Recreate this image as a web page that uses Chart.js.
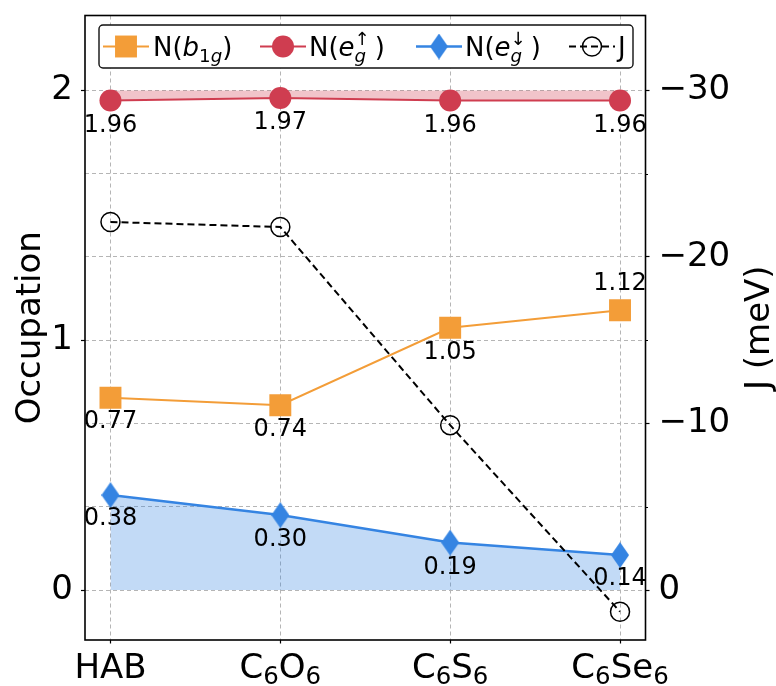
<!DOCTYPE html>
<html>
<head>
<meta charset="utf-8">
<script src="https://cdn.jsdelivr.net/npm/chart.js@4"></script>
<style>
  html, body { margin: 0; background: #fff; }
  #wrap { width: 776px; height: 686px; }
</style>
</head>
<body>
<div id="wrap"><canvas id="occupation"></canvas></div>
<script>
// '_' marks the next character as a subscript
const categories = ['HAB', 'C_6O_6', 'C_6S_6', 'C_6Se_6'];
const nB1g = [0.77, 0.74, 1.05, 1.12];
const nEgUp = [1.96, 1.97, 1.96, 1.96];
const nEgDown = [0.38, 0.30, 0.19, 0.14];
const jMeV = [-22.1, -21.8, -9.9, 1.3];
const occTicks = [0, 1, 2];
const jTicks = [-30, -25, -20, -15, -10, -5, 0];

const FONT = '"DejaVu Sans", "Liberation Sans", sans-serif';
const ORANGE = '#f39d38';
const RED = '#cf3d50';
const BLUE = '#3584e2';

function diamond(w, h, color) {
  const c = document.createElement('canvas');
  c.width = w; c.height = h;
  const g = c.getContext('2d');
  g.fillStyle = color;
  g.beginPath();
  g.moveTo(w / 2, 0); g.lineTo(w, h / 2); g.lineTo(w / 2, h); g.lineTo(0, h / 2);
  g.closePath();
  g.fill();
  return c;
}
const blueDiamond = diamond(18, 26, BLUE);

const pts = arr => arr.map((v, i) => ({ x: i, y: v }));

// text with sub/superscripts: parts = [{t, it, pos:'sub'|'sup', stack, gap}]
function drawRich(ctx, parts, x, y, size, align, scale = 0.7, subShift = 0.24) {
  const fontFor = (p, s) => (p.it ? 'italic ' : '') + s + 'px ' + FONT;
  const items = [];
  let cur = 0, prevStart = 0;
  for (const p of parts) {
    const s = p.pos ? size * scale : size;
    ctx.font = fontFor(p, s);
    const w = ctx.measureText(p.t).width;
    const start = p.stack ? prevStart : cur;
    items.push({ p, s, x: start });
    cur = Math.max(cur, start + w) + (p.gap || 0);
    prevStart = start;
  }
  const x0 = align === 'center' ? x - cur / 2 : x;
  ctx.textAlign = 'left';
  ctx.textBaseline = 'alphabetic';
  for (const it of items) {
    ctx.font = fontFor(it.p, it.s);
    let dy = 0;
    if (it.p.pos === 'sub') dy = size * subShift;
    if (it.p.pos === 'sup') dy = -size * 0.42;
    ctx.fillText(it.p.t, x0 + it.x, y + dy);
  }
}

function parseSub(label) {
  const parts = [];
  for (let i = 0; i < label.length; i++) {
    if (label[i] === '_') { parts.push({ t: label[++i], pos: 'sub' }); }
    else parts.push({ t: label[i] });
  }
  return parts;
}

const legendItems = [
  { ds: 0, cx: 126, tx: 153, parts: [{ t: 'N(' }, { t: 'b', it: 1 }, { t: '1', pos: 'sub' }, { t: 'g', pos: 'sub', it: 1 }, { t: ')' }] },
  { ds: 1, cx: 283, tx: 309, parts: [{ t: 'N(' }, { t: 'e', it: 1 }, { t: 'g', pos: 'sub', it: 1 }, { t: '↑', pos: 'sup', stack: 1, gap: 5 }, { t: ')' }] },
  { ds: 2, cx: 439, tx: 465, parts: [{ t: 'N(' }, { t: 'e', it: 1 }, { t: 'g', pos: 'sub', it: 1 }, { t: '↓', pos: 'sup', stack: 1, gap: 5 }, { t: ')' }] },
  { ds: 3, cx: 592, tx: 618, parts: [{ t: 'J' }] }
];

const decorations = {
  id: 'decorations',
  afterDraw(chart) {
    const ctx = chart.ctx;
    const area = chart.chartArea;
    const x = chart.scales.x, y2 = chart.scales.y2;
    ctx.save();
    ctx.fillStyle = '#000';

    // value labels next to each point
    chart.data.datasets.forEach((ds, i) => {
      if (!ds.labelOffsets) return;
      const meta = chart.getDatasetMeta(i);
      ctx.font = '24px ' + FONT;
      ctx.textAlign = 'center';
      ctx.textBaseline = 'middle';
      meta.data.forEach((pt, j) => {
        ctx.fillText(ds.data[j].y.toFixed(2), pt.x, pt.y + ds.labelOffsets[j]);
      });
    });

    // category labels with subscripts
    categories.forEach((c, i) => {
      drawRich(ctx, parseSub(c), x.getPixelForValue(i), 678, 34, 'center', 0.72, 0.19);
    });

    // minor ticks on the J axis
    ctx.strokeStyle = '#000';
    ctx.lineWidth = 1;
    jTicks.filter(v => v % 10 !== 0).forEach(v => {
      const py = Math.round(y2.getPixelForValue(v)) + 0.5;
      ctx.beginPath(); ctx.moveTo(area.right, py); ctx.lineTo(area.right + 2.5, py); ctx.stroke();
    });

    // frame
    ctx.lineWidth = 1.6;
    ctx.strokeRect(area.left, area.top, area.right - area.left, area.bottom - area.top);

    // axis titles
    ctx.font = '34px ' + FONT;
    ctx.textAlign = 'center';
    ctx.textBaseline = 'middle';
    const cy = (area.top + area.bottom) / 2;
    ctx.save(); ctx.translate(31, cy); ctx.rotate(-Math.PI / 2); ctx.fillText('Occupation', 0, 0); ctx.restore();
    ctx.save(); ctx.translate(760, cy); ctx.rotate(-Math.PI / 2); ctx.fillText('J (meV)', 0, 0); ctx.restore();

    // legend
    const ly = 46.5;
    ctx.beginPath();
    ctx.roundRect(99, 25, 534, 43, 4);
    ctx.fillStyle = '#fff';
    ctx.fill();
    ctx.lineWidth = 1.4;
    ctx.strokeStyle = '#111';
    ctx.stroke();
    legendItems.forEach(item => {
      const ds = chart.data.datasets[item.ds];
      ctx.save();
      ctx.strokeStyle = ds.borderColor;
      ctx.lineWidth = ds.borderWidth;
      ctx.setLineDash(ds.borderDash || []);
      ctx.beginPath(); ctx.moveTo(item.cx - 23, ly); ctx.lineTo(item.cx + 23, ly); ctx.stroke();
      ctx.setLineDash([]);
      ctx.fillStyle = ds.pointBackgroundColor || ds.backgroundColor;
      ctx.strokeStyle = ds.pointBorderColor || ds.borderColor;
      ctx.lineWidth = ds.pointBorderWidth;
      Chart.helpers.drawPoint(ctx, {
        pointStyle: ds.pointStyle, rotation: 0, radius: ds.pointRadius,
        borderWidth: ds.pointBorderWidth
      }, item.cx, ly);
      ctx.restore();
      ctx.fillStyle = '#000';
      drawRich(ctx, item.parts, item.tx, ly + 9.5, 26, 'left');
    });
    ctx.restore();
  }
};

// keep the plot box fixed: no extra room for half tick labels
const noPad = s => { s.paddingTop = 0; s.paddingBottom = 0; s.paddingLeft = 0; s.paddingRight = 0; };

new Chart(document.getElementById('occupation'), {
  type: 'line',
  data: {
    datasets: [
      {
        label: 'N(b1g)',
        data: pts(nB1g),
        yAxisID: 'y',
        borderColor: ORANGE,
        backgroundColor: ORANGE,
        borderWidth: 2,
        pointStyle: 'rect',
        pointRadius: 15.5,
        pointBorderWidth: 0,
        labelOffsets: [24, 25, 25, -26],
        order: 3
      },
      {
        label: 'N(eg up)',
        data: pts(nEgUp),
        yAxisID: 'y',
        borderColor: RED,
        backgroundColor: 'rgba(207, 61, 80, 0.3)',
        pointBackgroundColor: RED,
        borderWidth: 2,
        pointStyle: 'circle',
        pointRadius: 11,
        pointBorderWidth: 0,
        fill: { value: 2 },
        labelOffsets: [25, 25, 25, 25],
        order: 2
      },
      {
        label: 'N(eg down)',
        data: pts(nEgDown),
        yAxisID: 'y',
        borderColor: BLUE,
        backgroundColor: 'rgba(53, 132, 226, 0.3)',
        pointBackgroundColor: BLUE,
        borderWidth: 2.5,
        pointStyle: blueDiamond,
        pointRadius: 13,
        pointBorderWidth: 0,
        fill: { value: 0 },
        labelOffsets: [24, 25, 25, 24],
        order: 1
      },
      {
        label: 'J',
        data: pts(jMeV),
        yAxisID: 'y2',
        borderColor: '#000',
        backgroundColor: 'rgba(0,0,0,0)',
        pointBackgroundColor: 'rgba(0,0,0,0)',
        pointBorderColor: '#000',
        borderWidth: 2,
        borderDash: [7, 4],
        pointStyle: 'circle',
        pointRadius: 9.5,
        pointBorderWidth: 1.5,
        order: 0
      }
    ]
  },
  options: {
    responsive: true,
    maintainAspectRatio: false,
    animation: false,
    layout: { padding: { top: 13, left: 0, right: 0, bottom: 0 } },
    elements: { line: { tension: 0 } },
    plugins: {
      legend: { display: false },
      tooltip: { enabled: false }
    },
    scales: {
      x: {
        type: 'linear',
        min: -0.15,
        max: 3.15,
        afterBuildTicks: s => { s.ticks = categories.map((c, i) => ({ value: i })); },
        afterFit: s => { s.height = 46; noPad(s); },
        ticks: { display: false },
        grid: { color: '#b5b5b5', lineWidth: 1, tickLength: 3.5, tickColor: '#000', tickWidth: 1.2 },
        border: { display: false, dash: [4, 3] }
      },
      y: {
        position: 'left',
        min: -0.2,
        max: 2.3,
        afterBuildTicks: s => { s.ticks = occTicks.map(v => ({ value: v })); },
        afterFit: s => { s.width = 85; noPad(s); },
        ticks: { font: { size: 34, family: FONT }, color: '#000', padding: 8 },
        grid: { drawOnChartArea: false, tickLength: 4, tickColor: '#000', tickWidth: 1.2 },
        border: { display: false }
      },
      y2: {
        position: 'right',
        reverse: true,
        min: -34.5,
        max: 3,
        afterBuildTicks: s => { s.ticks = jTicks.map(v => ({ value: v })); },
        afterFit: s => { s.width = 130.5; noPad(s); },
        ticks: {
          font: { size: 34, family: FONT },
          color: '#000',
          padding: 9,
          callback: v => v % 10 !== 0 ? '' : (v < 0 ? '\u2212' + Math.abs(v) : String(v))
        },
        grid: {
          color: '#b5b5b5',
          lineWidth: 1,
          tickLength: 4,
          tickWidth: 1.2,
          tickColor: c => (c.tick && c.tick.value % 10 === 0) ? '#000' : 'rgba(0,0,0,0)'
        },
        border: { display: false, dash: [4, 3] }
      }
    }
  },
  plugins: [decorations]
});
</script>
</body>
</html>
